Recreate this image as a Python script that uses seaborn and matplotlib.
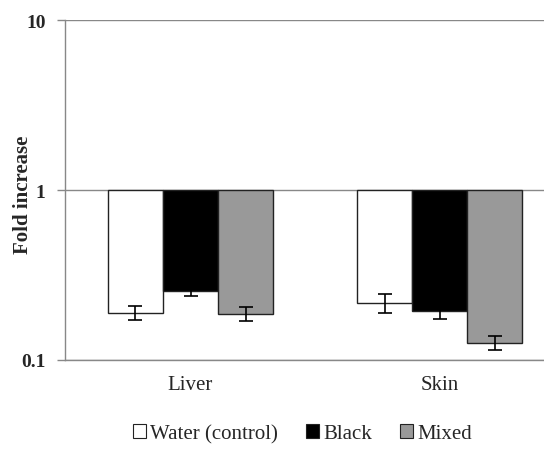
import numpy as np
import pandas as pd
import matplotlib
matplotlib.use("Agg")
import matplotlib.pyplot as plt
import seaborn as sns
from matplotlib.patches import Patch

tissues = ["Liver", "Skin"]
groups = ["Water (control)", "Black", "Mixed"]
values = {
    "Water (control)": [0.190, 0.217],
    "Black": [0.254, 0.193],
    "Mixed": [0.187, 0.126],
}
errors = {
    "Water (control)": [0.019, 0.028],
    "Black": [0.016, 0.018],
    "Mixed": [0.017, 0.012],
}
colors = ["#ffffff", "#000000", "#999999"]

rows = []
for g in groups:
    for t, v, e in zip(tissues, values[g], errors[g]):
        rows.append({"Tissue": t, "Group": g, "Value": v, "Err": e})
df = pd.DataFrame(rows)

sns.set_style("white")
plt.rcParams["font.family"] = ["Liberation Serif", "DejaVu Serif"]

fig = plt.figure(figsize=(5.44, 4.60), dpi=100)
ax = fig.add_axes([65 / 544, 99 / 460, (554 - 65) / 544, 340 / 460])
ax.set_yscale("log")

sns.barplot(data=df, x="Tissue", y="Value", hue="Group", order=tissues,
            hue_order=groups, palette=colors, width=0.664, gap=0,
            edgecolor="#222222", linewidth=1.0, errorbar=None,
            legend=False, ax=ax)

# bars hang from 1 down to the value
for cont, g in zip(ax.containers, groups):
    for rect, t in zip(cont, tissues):
        v = rect.get_height()
        rect.set_y(v)
        rect.set_height(1 - v)
        rect.set_edgecolor("#222222")
        xc = rect.get_x() + rect.get_width() / 2
        e = df[(df.Group == g) & (df.Tissue == t)]["Err"].iloc[0]
        ax.errorbar(xc, v, yerr=e, fmt="none", ecolor="black",
                    elinewidth=1.2, capsize=5, capthick=1.2, zorder=5)

ax.set_ylim(0.1, 10)
ax.set_xlim(-0.504, 1.459)
ax.set_yticks([0.1, 1, 10])
ax.set_yticklabels(["0.1", "1", "10"], fontsize=14, fontweight="bold")
ax.yaxis.set_minor_locator(matplotlib.ticker.NullLocator())
ax.tick_params(axis="y", which="major", direction="out", length=6,
               color="#888888", width=1, left=True, pad=8)
ax.tick_params(axis="x", length=0, labelsize=15, pad=11)
ax.set_xlabel("")
ax.set_ylabel("Fold increase", fontsize=15, fontweight="bold")
ax.yaxis.set_label_coords(-0.066, 0.488)

ax.grid(axis="y", which="major", color="#888888", linewidth=1.0)
ax.set_axisbelow(True)
for s in ["top", "right"]:
    ax.spines[s].set_visible(False)
for s in ["left", "bottom"]:
    ax.spines[s].set_color("#888888")
    ax.spines[s].set_linewidth(1.0)

handles = [Patch(facecolor=c, edgecolor="#222222", linewidth=0.8, label=g)
           for c, g in zip(colors, groups)]
fig.legend(handles=handles, loc="center", bbox_to_anchor=(0.556, 0.055),
           ncol=3, frameon=False, fontsize=15, handlelength=0.6,
           handleheight=0.6, handletextpad=0.2, columnspacing=1.37)

fig.savefig("out.png", dpi=100)
